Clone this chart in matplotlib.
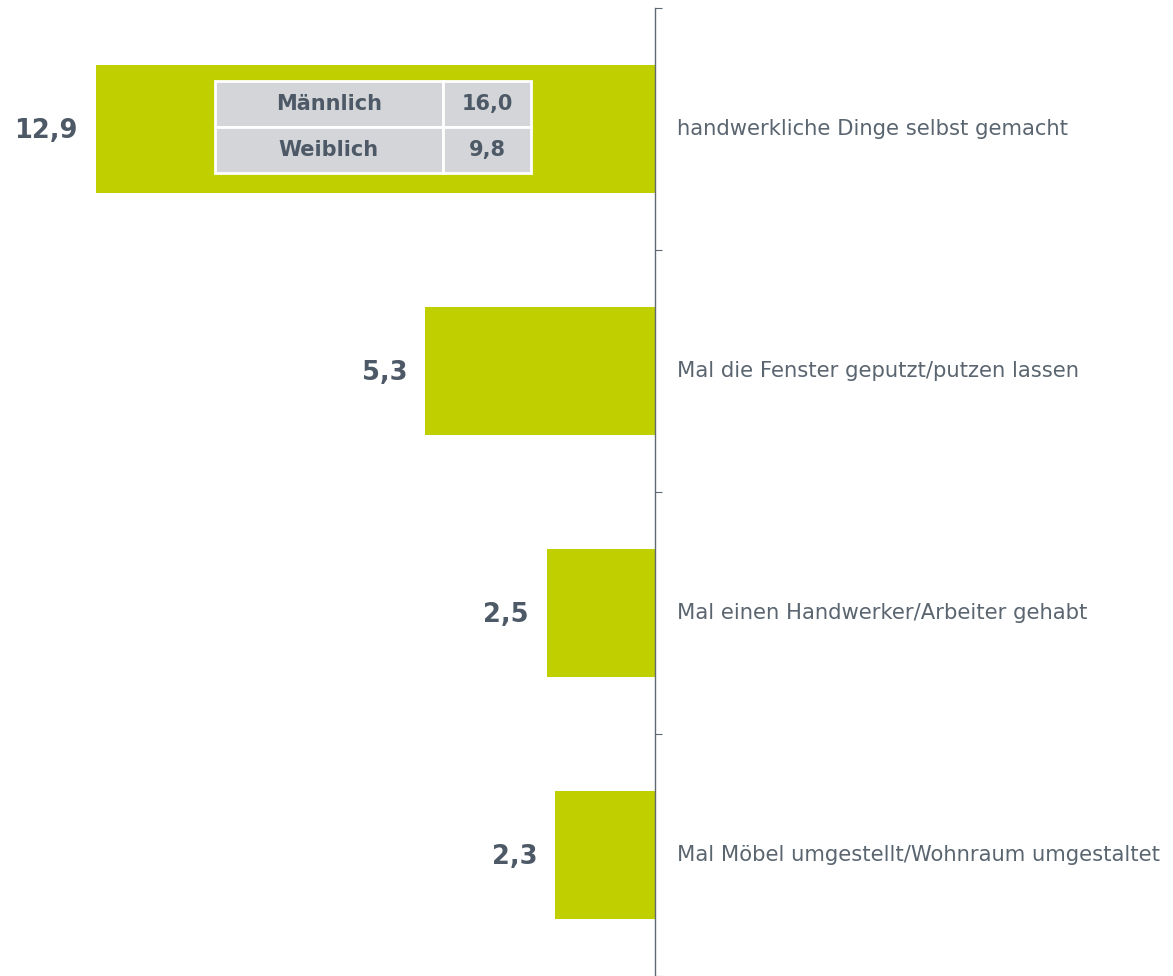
import matplotlib
matplotlib.use("Agg")
from matplotlib import pyplot as plt

categories = ["handwerkliche Dinge selbst gemacht",
              "Mal die Fenster geputzt/putzen lassen",
              "Mal einen Handwerker/Arbeiter gehabt",
              "Mal Möbel umgestellt/Wohnraum umgestaltet"]
values = [12.9, 5.3, 2.5, 2.3]
value_labels = ["12,9", "5,3", "2,5", "2,3"]

gender_rows = ["Männlich", "Weiblich"]
gender_values = ["16,0", "9,8"]

bar_color = "#c0cf00"
text_color = "#4d5966"
label_color = "#5a6570"
axis_color = "#5f6873"

fig = plt.figure(figsize=(11.73, 9.76), dpi=100)
ax = fig.add_axes([0, 0, 1, 968 / 976])

y = [i + 0.5 for i in range(len(categories))]
ax.barh(y, values, height=0.525, color=bar_color)

# x grows to the left, 0 sits at pixel 655
ax.set_xlim(655 / 43.33, -(1173 - 655) / 43.33)
ax.set_ylim(len(categories), 0)

for yi, v, lab, cat in zip(y, values, value_labels, categories):
    ax.annotate(lab, (v, yi), xytext=(-13, -1.5), textcoords="offset points",
                ha="right", va="center", fontsize=18.5, fontweight="bold",
                color=text_color)
    ax.annotate(cat, (0, yi), xytext=(15.5, 0), textcoords="offset points",
                ha="left", va="center", fontsize=15.2, color=label_color)

for s in ["top", "right", "bottom"]:
    ax.spines[s].set_visible(False)
ax.spines["left"].set_position(("data", 0))
ax.spines["left"].set_color(axis_color)
ax.spines["left"].set_linewidth(1.0)
ax.set_xticks([])
ax.set_yticks(range(len(categories) + 1))
ax.tick_params(axis="y", direction="in", length=5, color=axis_color,
               labelleft=False)
ax.patch.set_visible(False)

# small inset table for gender split
tax = fig.add_axes([215 / 1173, (976 - 173) / 976, 316 / 1173, 92 / 976])
tax.axis("off")
tbl = tax.table(cellText=[[r, v] for r, v in zip(gender_rows, gender_values)],
                bbox=[0, 0, 1, 1], colWidths=[0.721, 0.279], cellLoc="center")
tbl.auto_set_font_size(False)
for cell in tbl.get_celld().values():
    cell.set_facecolor("#d3d5d9")
    cell.set_edgecolor("white")
    cell.set_linewidth(2)
    cell.get_text().set_fontsize(15)
    cell.get_text().set_fontweight("bold")
    cell.get_text().set_color(text_color)

fig.savefig("out.png", dpi=100)
